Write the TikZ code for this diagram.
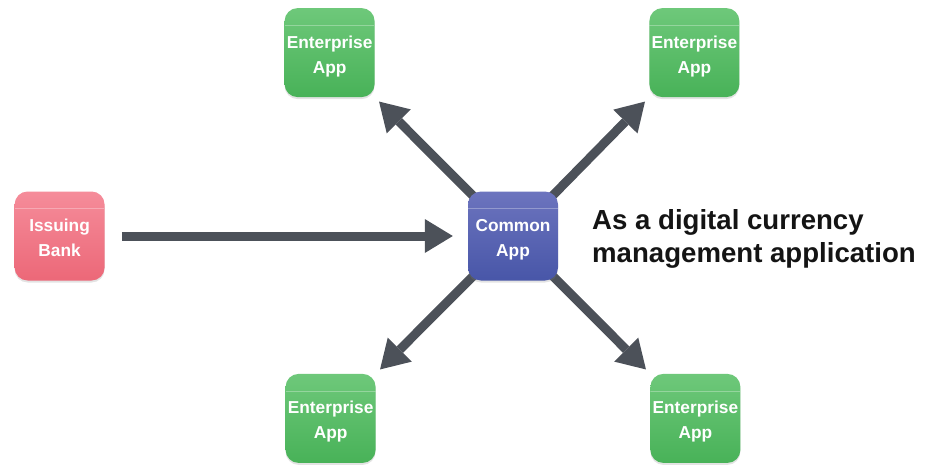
\documentclass[tikz,border=0pt]{standalone}
\usepackage{fontspec}
\setmainfont{Liberation Sans}
\usetikzlibrary{arrows.meta,positioning,shadows,backgrounds}

\definecolor{bankTop}{RGB}{245,140,154}
\definecolor{bankBot}{RGB}{236,104,120}
\definecolor{commTop}{RGB}{108,116,190}
\definecolor{commBot}{RGB}{72,86,168}
\definecolor{entTop}{RGB}{110,200,122}
\definecolor{entBot}{RGB}{72,178,88}
\definecolor{arrowGray}{RGB}{76,81,89}

\begin{document}
\begin{tikzpicture}[x=1pt,y=-1pt,
    app/.style={rounded corners=13pt,minimum width=90pt,minimum height=89pt,inner sep=0pt,
      align=center,text=white,font=\fontsize{17.3}{25}\selectfont\bfseries,
      text height=41pt,text depth=0pt,
      drop shadow={opacity=.22,shadow xshift=0pt,shadow yshift=-2pt},
      path picture={\draw[white,opacity=.3] ([yshift=-17pt]path picture bounding box.north west)
        -- ([yshift=-17pt]path picture bounding box.north east);}},
    bank/.style={app,top color=bankTop,bottom color=bankBot},
    comm/.style={app,top color=commTop,bottom color=commBot},
    ent/.style={app,top color=entTop,bottom color=entBot},
    flow/.style={draw=arrowGray,line width=9pt,
      -{Triangle[length=28pt,width=34pt,line width=0pt,fill=arrowGray]}}]
    \useasboundingbox (0,0) rectangle (929,466);
    \node[comm] (CA) at (513,236)             {Common\\App};
    \node[bank] (IB) [left=363pt of CA]        {Issuing\\Bank};
    \node[ent]  (E1) [above left=94pt and 93pt of CA]  {Enterprise\\App};
    \node[ent]  (E2) [above right=94pt and 91pt of CA] {Enterprise\\App};
    \node[ent]  (E3) [below left=93pt and 92pt of CA]  {Enterprise\\App};
    \node[ent]  (E4) [below right=93pt and 92pt of CA] {Enterprise\\App};
    \node[anchor=north west,inner sep=0pt,align=left,text={rgb,255:red,20;green,20;blue,20},
      font=\fontsize{27.6}{33}\selectfont\bfseries] (TX) at (592,209)
      {As a digital currency\\management application};
    \begin{pgfonlayer}{background}
      \path[flow]
        (IB.east) edge [shorten <=17pt,shorten >=15pt] (CA.west)
        (CA.center) edge [shorten >=6pt] (E1.south east)
        (CA.center) edge [shorten >=6pt] (E2.south west)
        (CA.center) edge [shorten >=6pt] (E3.north east)
        (CA.center) edge [shorten >=6pt] (E4.north west);
    \end{pgfonlayer}
\end{tikzpicture}
\end{document}
